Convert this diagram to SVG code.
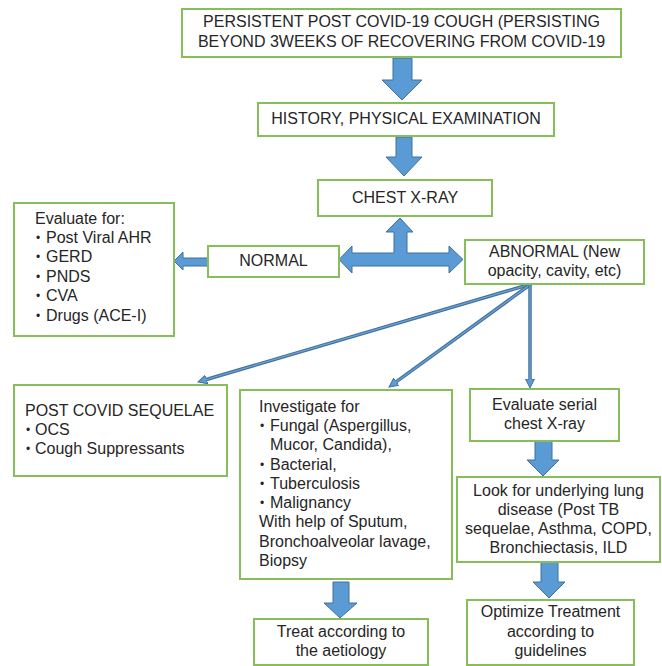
<svg xmlns="http://www.w3.org/2000/svg" width="662" height="666" viewBox="0 0 662 666">
<style>
.box{fill:#fff;stroke:#86bf5a;stroke-width:2}
.t{font-family:"Liberation Sans",Arial,sans-serif;font-size:16px;fill:#262626}
.b{font-size:12px}
.c{text-anchor:middle}
.blk{fill:#5b9bd5;stroke:#41719c;stroke-width:1}
.thin{fill:none;stroke:#41719c;stroke-width:3.5}
.thinIn{fill:none;stroke:#6fa3d8;stroke-width:1.2}
</style>
<defs>
<marker id="ah" viewBox="0 -5 10 10" refX="2" refY="0" markerWidth="10" markerHeight="10" markerUnits="userSpaceOnUse" orient="auto">
<path d="M0,-4.5 L9,0 L0,4.5 Z" fill="#5b9bd5" stroke="#41719c" stroke-width="1"/>
</marker>
</defs>
<rect width="662" height="666" fill="#fff"/>
<g id="connectors">
<polygon class="blk" points="393,58 412,58 412,80 422,80 402,100 382,80 393,80"/>
<polygon class="blk" points="396,137 412,137 412,157 422,157 404,176 386,157 396,157"/>
<polygon class="blk" points="339,259.5 352,246 352,253 394,253 394,232 386,232 400,218 413,232 407,232 407,253 449,253 449,246 463,259.5 449,273 449,266 352,266 352,273"/>
<polygon class="blk" points="208,258 183,258 183,252 174,261 183,270 183,266 208,266"/>
<line class="thin" x1="531" y1="284" x2="204.7" y2="380" marker-end="url(#ah)"/>
<line class="thinIn" x1="531" y1="284" x2="204.7" y2="380"/>
<line class="thin" x1="531" y1="284" x2="394.7" y2="382.9" marker-end="url(#ah)"/>
<line class="thinIn" x1="531" y1="284" x2="394.7" y2="382.9"/>
<line class="thin" x1="530" y1="284" x2="530" y2="381" marker-end="url(#ah)"/>
<line class="thinIn" x1="530" y1="284" x2="530" y2="381"/>
<polygon class="blk" points="535,441 552,441 552,460 559,460 543,476 527,460 535,460"/>
<polygon class="blk" points="541,562 558,562 558,582 565,582 549,598 533,582 541,582"/>
<polygon class="blk" points="333,582 349,582 349,603 357,603 340,618 324,603 333,603"/>
</g>
<g id="n-start">
<rect class="box" x="182" y="9" width="439" height="48"/>
<text class="t c" x="401.5" y="27">PERSISTENT POST COVID-19 COUGH (PERSISTING</text>
<text class="t c" x="401.5" y="47">BEYOND 3WEEKS OF RECOVERING FROM COVID-19</text>
</g>
<g id="n-history">
<rect class="box" x="258" y="103" width="296" height="33"/>
<text class="t c" x="406" y="124">HISTORY, PHYSICAL EXAMINATION</text>
</g>
<g id="n-chest">
<rect class="box" x="318" y="180" width="174" height="36"/>
<text class="t c" x="405" y="203">CHEST X-RAY</text>
</g>
<g id="n-evaluate">
<rect class="box" x="14" y="203" width="160" height="133"/>
<text class="t" x="35" y="224">Evaluate for:</text>
<text class="t b" x="36" y="242">•</text><text class="t" x="46" y="243">Post Viral AHR</text>
<text class="t b" x="36" y="261">•</text><text class="t" x="46" y="262">GERD</text>
<text class="t b" x="36" y="281">•</text><text class="t" x="46" y="282">PNDS</text>
<text class="t b" x="36" y="300">•</text><text class="t" x="46" y="301">CVA</text>
<text class="t b" x="36" y="320">•</text><text class="t" x="46" y="321">Drugs (ACE-I)</text>
</g>
<g id="n-normal">
<rect class="box" x="208" y="246" width="131" height="31"/>
<text class="t c" x="273.5" y="266">NORMAL</text>
</g>
<g id="n-abnormal">
<rect class="box" x="465" y="240" width="179" height="44"/>
<text class="t c" x="554.5" y="257">ABNORMAL (New</text>
<text class="t c" x="554.5" y="276">opacity, cavity, etc)</text>
</g>
<g id="n-postcovid">
<rect class="box" x="14" y="385" width="213" height="91"/>
<text class="t" x="25" y="416">POST COVID SEQUELAE</text>
<text class="t b" x="26" y="434">•</text><text class="t" x="35" y="435">OCS</text>
<text class="t b" x="26" y="453">•</text><text class="t" x="35" y="454">Cough Suppressants</text>
</g>
<g id="n-investigate">
<rect class="box" x="240" y="390" width="212" height="189"/>
<text class="t" x="259" y="412">Investigate for</text>
<text class="t b" x="260" y="430">•</text><text class="t" x="270" y="431">Fungal (Aspergillus,</text>
<text class="t" x="270" y="450">Mucor, Candida),</text>
<text class="t b" x="260" y="469">•</text><text class="t" x="270" y="470">Bacterial,</text>
<text class="t b" x="260" y="488">•</text><text class="t" x="270" y="489">Tuberculosis</text>
<text class="t b" x="260" y="507">•</text><text class="t" x="270" y="508">Malignancy</text>
<text class="t" x="259" y="527">With help of Sputum,</text>
<text class="t" x="259" y="547">Bronchoalveolar lavage,</text>
<text class="t" x="259" y="566">Biopsy</text>
</g>
<g id="n-serial">
<rect class="box" x="470" y="389" width="149" height="52"/>
<text class="t c" x="544.5" y="410">Evaluate serial</text>
<text class="t c" x="544.5" y="429">chest X-ray</text>
</g>
<g id="n-look">
<rect class="box" x="457" y="477" width="203" height="85"/>
<text class="t c" x="558.5" y="496">Look for underlying lung</text>
<text class="t c" x="558.5" y="515">disease (Post TB</text>
<text class="t c" x="558.5" y="534">sequelae, Asthma, COPD,</text>
<text class="t c" x="558.5" y="553">Bronchiectasis, ILD</text>
</g>
<g id="n-optimize">
<rect class="box" x="467" y="600" width="167" height="65"/>
<text class="t c" x="550.5" y="617">Optimize Treatment</text>
<text class="t c" x="550.5" y="637">according to</text>
<text class="t c" x="550.5" y="656">guidelines</text>
</g>
<g id="n-treat">
<rect class="box" x="254" y="619" width="174" height="46"/>
<text class="t c" x="341" y="637">Treat according to</text>
<text class="t c" x="341" y="656">the aetiology</text>
</g>
</svg>
